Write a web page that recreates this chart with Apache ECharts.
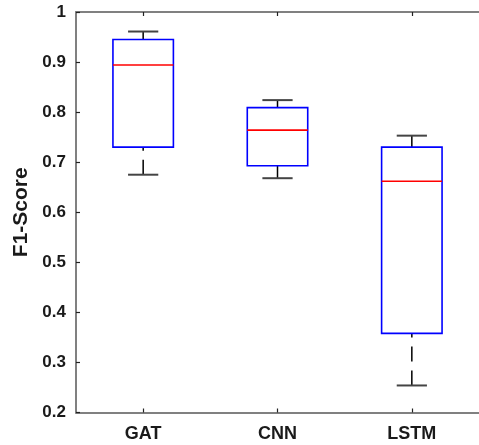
<!DOCTYPE html>
<html>
<head>
<meta charset="utf-8">
<script src="https://cdn.jsdelivr.net/npm/echarts@6/dist/echarts.min.js"></script>
<style>
  html, body { margin: 0; padding: 0; background: #fff; }
  #chart { width: 479px; height: 445px; }
</style>
</head>
<body>
<div id="chart"></div>
<script>
// box statistics per model
const categories = ['GAT', 'CNN', 'LSTM'];
const whiskerLow = [0.675, 0.668, 0.254];
const q1 = [0.730, 0.693, 0.358];
const median = [0.894, 0.764, 0.662];
const q3 = [0.945, 0.809, 0.730];
const whiskerHigh = [0.961, 0.824, 0.753];

const FONT = '"Liberation Sans", Arial, sans-serif';

const chart = echarts.init(document.getElementById('chart'));

function renderBox(params, api) {
    const i = api.value(0);
    const cx = api.coord([i, 0.5])[0];
    const yOf = dim => api.coord([i, api.value(dim)])[1];
    const band = api.size([1, 0])[0];
    const bw = band * 0.45;
    const cw = band * 0.225;
    const yLo = yOf(1), yQ1 = yOf(2), yMed = yOf(3), yQ3 = yOf(4), yHi = yOf(5);

    const whisker = { stroke: '#000', lineWidth: 1.5, lineDash: [15, 9] };
    const cap = { stroke: '#444', lineWidth: 2 };
    return {
        type: 'group',
        children: [
            { type: 'line', shape: { x1: cx, y1: yHi, x2: cx, y2: yQ3 }, style: whisker },
            { type: 'line', shape: { x1: cx, y1: yLo, x2: cx, y2: yQ1 }, style: whisker },
            { type: 'line', shape: { x1: cx - cw / 2, y1: yHi, x2: cx + cw / 2, y2: yHi }, style: cap },
            { type: 'line', shape: { x1: cx - cw / 2, y1: yLo, x2: cx + cw / 2, y2: yLo }, style: cap },
            {
                type: 'rect',
                shape: { x: cx - bw / 2, y: yQ3, width: bw, height: yQ1 - yQ3 },
                style: { fill: 'none', stroke: '#0000ff', lineWidth: 1.6 }
            },
            {
                type: 'line',
                shape: { x1: cx - bw / 2, y1: yMed, x2: cx + bw / 2, y2: yMed },
                style: { stroke: '#ff0000', lineWidth: 1.6 }
            }
        ]
    };
}

const axisLine = { show: true, lineStyle: { color: '#808080', width: 2 } };
const axisTick = { show: true, inside: true, length: 4, alignWithLabel: true, lineStyle: { color: '#222', width: 1.2 } };

const option = {
    backgroundColor: '#ffffff',
    animation: false,
    grid: { left: 76, top: 12, width: 411, height: 400.5 },
    xAxis: [
        {
            type: 'category',
            data: categories,
            position: 'bottom',
            boundaryGap: true,
            axisLine: axisLine,
            axisTick: axisTick,
            axisLabel: {
                color: '#1a1a1a',
                fontFamily: FONT,
                fontWeight: 'bold',
                fontSize: 18,
                margin: 13
            },
            splitLine: { show: false }
        },
        {
            type: 'category',
            data: categories,
            position: 'top',
            boundaryGap: true,
            axisLine: axisLine,
            axisTick: axisTick,
            axisLabel: { show: false },
            splitLine: { show: false }
        }
    ],
    yAxis: {
        type: 'value',
        min: 0.2,
        max: 1,
        interval: 0.1,
        name: 'F1-Score',
        nameLocation: 'middle',
        nameGap: 44,
        nameTextStyle: {
            color: '#1a1a1a',
            fontFamily: FONT,
            fontWeight: 'bold',
            fontSize: 21
        },
        axisLine: axisLine,
        axisTick: { show: true, inside: true, length: 4, lineStyle: { color: '#222', width: 1.2 } },
        axisLabel: {
            color: '#1a1a1a',
            fontFamily: FONT,
            fontWeight: 'bold',
            fontSize: 17,
            margin: 10,
            formatter: v => String(Math.round(v * 10) / 10)
        },
        splitLine: { show: false }
    },
    series: [{
        type: 'custom',
        renderItem: renderBox,
        xAxisIndex: 0,
        encode: { x: 0, y: [1, 2, 3, 4, 5] },
        data: categories.map((c, i) => [i, whiskerLow[i], q1[i], median[i], q3[i], whiskerHigh[i]])
    }]
};

chart.setOption(option);
</script>
</body>
</html>
